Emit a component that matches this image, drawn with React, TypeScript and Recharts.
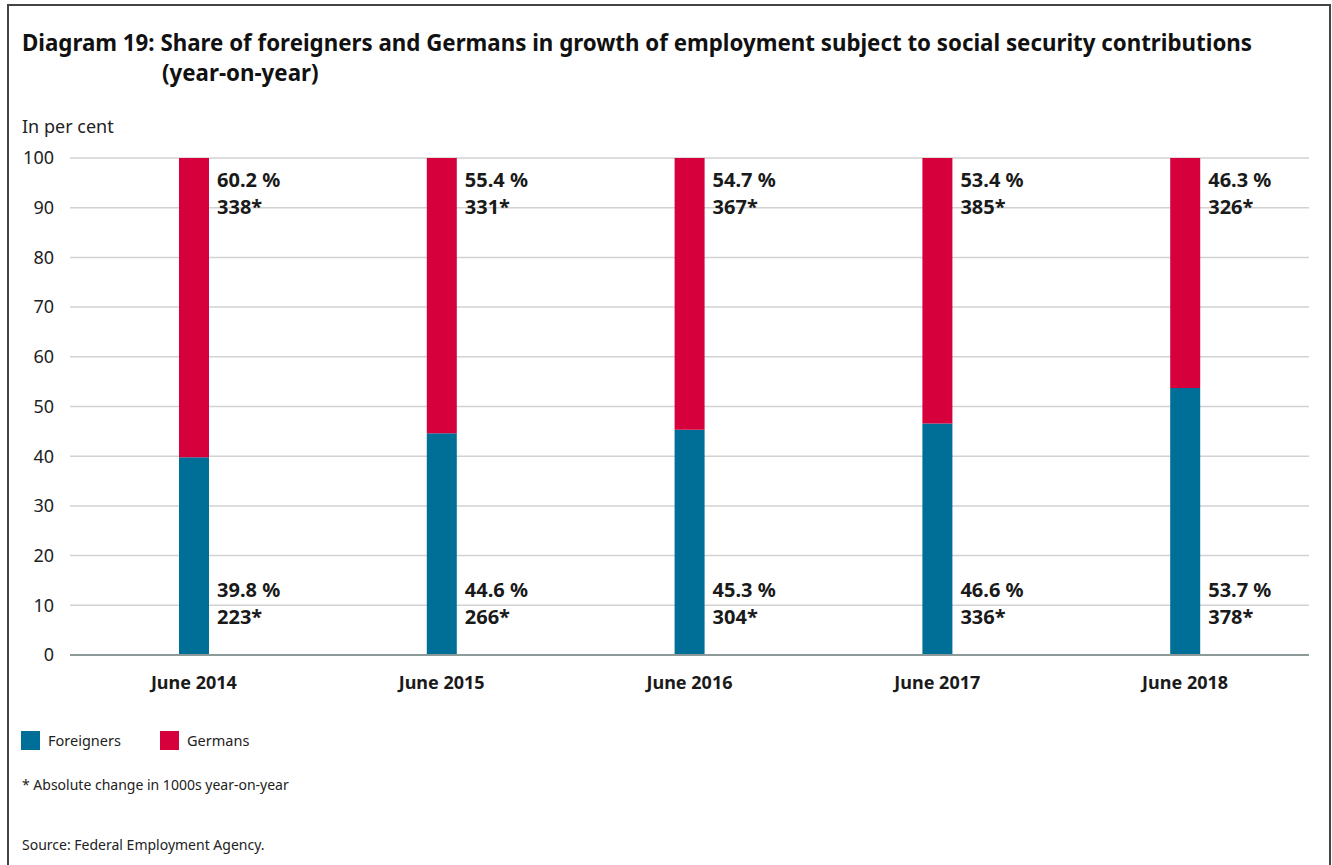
import { Bar, BarChart, CartesianGrid, LabelList, XAxis, YAxis } from 'recharts'

const CATEGORIES = ['June 2014', 'June 2015', 'June 2016', 'June 2017', 'June 2018']
const FOREIGNERS_SHARE = [39.8, 44.6, 45.3, 46.6, 53.7]
const GERMANS_SHARE = [60.2, 55.4, 54.7, 53.4, 46.3]
const FOREIGNERS_ABS = [223, 266, 304, 336, 378]
const GERMANS_ABS = [338, 331, 367, 385, 326]
const Y_TICKS = [0, 10, 20, 30, 40, 50, 60, 70, 80, 90, 100]

const BLUE = '#006f98'
const RED = '#d6003c'
const FONT = '"Noto Sans", "Open Sans", sans-serif'

type Row = {
  period: string
  foreigners: number
  germans: number
  foreignersAbs: number
  germansAbs: number
}

const rows: Row[] = CATEGORIES.map((period, index) => ({
  period,
  foreigners: FOREIGNERS_SHARE[index],
  germans: GERMANS_SHARE[index],
  foreignersAbs: FOREIGNERS_ABS[index],
  germansAbs: GERMANS_ABS[index],
}))

function formatShare(value: number): string {
  return `${value.toFixed(1)} %`
}

// label block sits to the right of the bar; top segment anchored at its top, bottom one at its base
function makeLabel(kind: 'top' | 'bottom', absValues: number[]) {
  return (props: any) => {
    const { x, y, width, height, value, index } = props
    const left = Number(x) + Number(width) + 8
    const baseY = kind === 'top' ? Number(y) + 22 : Number(y) + Number(height) - 65
    return (
      <g>
        <text x={left} y={baseY} dy="0.35em" fontFamily={FONT} fontSize={20} fontWeight={700} fill="#1a1a1a">
          {formatShare(Number(value))}
        </text>
        <text x={left} y={baseY + 27} dy="0.35em" fontFamily={FONT} fontSize={20} fontWeight={700} fill="#1a1a1a">
          {`${absValues[index]}*`}
        </text>
      </g>
    )
  }
}

function LegendItem({ color, label, left }: { color: string; label: string; left: number }) {
  return (
    <div style={{ position: 'absolute', left, top: 730, display: 'flex', alignItems: 'center' }}>
      <span style={{ width: 19, height: 19, backgroundColor: color, display: 'inline-block' }} />
      <span style={{ marginLeft: 8, fontSize: 14.5, color: '#222' }}>{label}</span>
    </div>
  )
}

export default function App() {
  return (
    <div
      style={{
        position: 'absolute',
        left: 0,
        top: 0,
        width: 1332,
        height: 865,
        overflow: 'hidden',
        background: '#fff',
        fontFamily: FONT,
      }}
    >
      <div
        style={{
          position: 'absolute',
          left: 7,
          top: 4,
          width: 1320,
          height: 900,
          border: '2px solid #444',
        }}
      />
      <div style={{ position: 'absolute', left: 22, top: 28, fontSize: 22.3, fontWeight: 700, color: '#111', lineHeight: '30px' }}>
        <div>Diagram 19: Share of foreigners and Germans in growth of employment subject to social security contributions</div>
        <div style={{ paddingLeft: 140 }}>(year-on-year)</div>
      </div>
      <div style={{ position: 'absolute', left: 22, top: 114, fontSize: 18, color: '#222' }}>In per cent</div>

      <div style={{ position: 'absolute', left: -1, top: 0 }}>
        <BarChart width={1333} height={700} data={rows} margin={{ top: 158, right: 23, bottom: 0, left: 0 }}>
          <CartesianGrid vertical={false} stroke="#d2d2d2" strokeWidth={1.5} />
          <XAxis
            dataKey="period"
            height={45}
            axisLine={{ stroke: '#8d9a9a', strokeWidth: 2 }}
            tickLine={false}
            tickMargin={15}
            tick={{ fontFamily: FONT, fontSize: 18, fontWeight: 700, fill: '#1a1a1a' }}
          />
          <YAxis
            width={71}
            domain={[0, 100]}
            ticks={Y_TICKS}
            interval={0}
            axisLine={false}
            tickLine={false}
            tickMargin={10}
            tick={{ fontFamily: FONT, fontSize: 18, fill: '#222' }}
          />
          <Bar dataKey="foreigners" stackId="share" fill={BLUE} barSize={30} isAnimationActive={false}>
            <LabelList dataKey="foreigners" content={makeLabel('bottom', FOREIGNERS_ABS)} />
          </Bar>
          <Bar dataKey="germans" stackId="share" fill={RED} barSize={30} isAnimationActive={false}>
            <LabelList dataKey="germans" content={makeLabel('top', GERMANS_ABS)} />
          </Bar>
        </BarChart>
      </div>

      <LegendItem color={BLUE} label="Foreigners" left={21} />
      <LegendItem color={RED} label="Germans" left={160} />
      <div style={{ position: 'absolute', left: 22, top: 775, fontSize: 14, color: '#222' }}>
        * Absolute change in 1000s year-on-year
      </div>
      <div style={{ position: 'absolute', left: 22, top: 835, fontSize: 14, color: '#222' }}>
        Source: Federal Employment Agency.
      </div>
    </div>
  )
}
